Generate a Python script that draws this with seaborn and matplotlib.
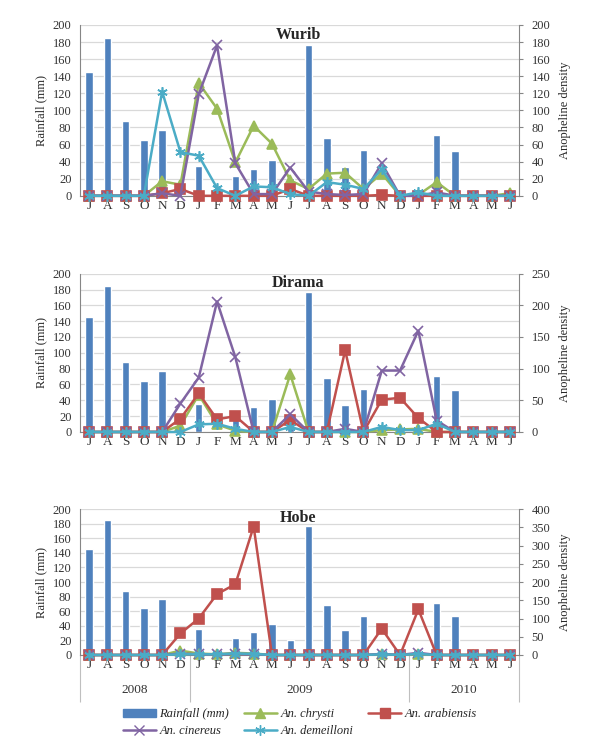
import numpy as np
import matplotlib
matplotlib.use("Agg")
import matplotlib.pyplot as plt
import seaborn as sns
from matplotlib.patches import Patch
from matplotlib.lines import Line2D

# month labels Jul 2008 - Jun 2010
months = ['J', 'A', 'S', 'O', 'N', 'D', 'J', 'F', 'M', 'A', 'M', 'J',
          'J', 'A', 'S', 'O', 'N', 'D', 'J', 'F', 'M', 'A', 'M', 'J']
years = ['2008', '2009', '2010']
year_months = [6, 12, 6]

rainfall = [145, 185, 88, 65, 77, 0, 35, 0, 23, 31, 42, 21,
            177, 68, 34, 54, 0, 0, 0, 71, 53, 0, 0, 0]

# Wurib
wurib_chrysti = [0, 0, 0, 0, 17, 13, 132, 102, 39, 82, 61, 18,
                 8, 26, 27, 8, 26, 0, 1, 16, 0, 0, 0, 3]
wurib_arabiensis = [0, 0, 0, 0, 3, 8, 0, 0, 0, 0, 0, 8,
                    0, 0, 0, 0, 1, 0, 0, 0, 0, 0, 0, 0]
wurib_cinereus = [0, 0, 0, 0, 3, 0, 119, 176, 38, 2, 2, 33,
                  5, 2, 1, 2, 38, 0, 0, 4, 0, 0, 0, 0]
wurib_demeilloni = [0, 0, 0, 0, 122, 51, 47, 9, 0, 11, 10, 2,
                    0, 16, 13, 8, 31, 0, 4, 0, 0, 0, 0, 0]

# Dirama
dirama_chrysti = [0, 0, 0, 0, 0, 10, 59, 12, 2, 0, 0, 91,
                  0, 0, 0, 0, 3, 4, 5, 0, 0, 0, 0, 0]
dirama_arabiensis = [0, 0, 0, 0, 0, 21, 61, 20, 25, 0, 0, 19,
                     0, 0, 129, 0, 51, 54, 22, 0, 0, 0, 0, 0]
dirama_cinereus = [0, 0, 0, 0, 0, 45, 86, 206, 118, 0, 0, 28,
                   0, 0, 5, 0, 97, 97, 160, 18, 0, 0, 0, 0]
dirama_demeilloni = [0, 0, 0, 0, 0, 0, 12, 13, 5, 0, 0, 8,
                     0, 0, 0, 0, 8, 3, 3, 13, 0, 0, 0, 0]

# Hobe
hobe_chrysti = [0, 0, 0, 0, 0, 12, 4, 2, 6, 4, 0, 0,
                0, 0, 0, 0, 2, 0, 3, 0, 0, 0, 0, 0]
hobe_arabiensis = [0, 0, 0, 0, 0, 59, 100, 167, 194, 352, 0, 0,
                   0, 0, 0, 0, 72, 0, 125, 0, 0, 0, 0, 0]
hobe_cinereus = [0, 0, 0, 0, 0, 4, 2, 2, 3, 2, 0, 0,
                 0, 0, 0, 0, 3, 0, 6, 0, 0, 0, 0, 0]
hobe_demeilloni = [0, 0, 0, 0, 0, 2, 2, 2, 4, 3, 0, 0,
                   0, 0, 0, 0, 2, 0, 3, 0, 0, 0, 0, 0]

species_names = ['An. chrysti', 'An. arabiensis', 'An. cinereus', 'An. demeilloni']
species_colors = ['#9BBB59', '#C0504D', '#8064A2', '#4BACC6']
species_markers = ['^', 's', 'x', (6, 2, 0)]
species_msize = [6.5, 6.5, 6.5, 7.5]
bar_color = '#4F81BD'

sites = [
    ('Wurib', [wurib_chrysti, wurib_arabiensis, wurib_cinereus, wurib_demeilloni], 200, 20),
    ('Dirama', [dirama_chrysti, dirama_arabiensis, dirama_cinereus, dirama_demeilloni], 250, 50),
    ('Hobe', [hobe_chrysti, hobe_arabiensis, hobe_cinereus, hobe_demeilloni], 400, 50),
]

sns.set_style('white')
plt.rcParams['font.family'] = ['Liberation Serif', 'DejaVu Serif']

fig = plt.figure(figsize=(6, 7.56), dpi=100)
boxes = [(0.133, 0.741, 0.732, 0.226),
         (0.133, 0.4286, 0.732, 0.2094),
         (0.133, 0.1336, 0.732, 0.1931)]

x = np.arange(len(months))
grey = '#868686'
fs = 9

for i, (name, series, rmax, rstep) in enumerate(sites):
    ax = fig.add_axes(boxes[i])
    sns.barplot(x=x, y=rainfall, ax=ax, color=bar_color, width=0.4, saturation=1)
    ax.set_ylim(0, 200)
    ax.set_yticks(np.arange(0, 201, 20))
    ax.set_xlim(-0.5, len(months) - 0.5)
    ax.yaxis.grid(True, color='#D9D9D9', lw=0.9)
    ax.set_axisbelow(True)
    ax.set_ylabel('Rainfall (mm)', fontsize=fs, labelpad=4)
    ax.set_xlabel('')
    ax.set_xticks(x)
    ax.set_xticklabels(months, fontsize=9.5)
    ax.tick_params(axis='y', labelsize=fs, length=0, pad=6, labelcolor='#333333')
    ax.tick_params(axis='x', length=0, pad=3, labelcolor='#333333')
    for s in ['left', 'bottom']:
        ax.spines[s].set_color(grey)
        ax.spines[s].set_linewidth(0.8)
    ax.spines['top'].set_visible(False)
    ax.spines['right'].set_visible(False)

    ax2 = ax.twinx()
    for vals, c, m, ms in zip(series, species_colors, species_markers, species_msize):
        sns.lineplot(x=x, y=vals, ax=ax2, color=c, marker=m, markersize=ms,
                     markeredgecolor=c, markeredgewidth=1.2, linewidth=1.8,
                     sort=False, clip_on=False)
    ax2.set_ylim(0, rmax)
    ax2.set_yticks(np.arange(0, rmax + 1, rstep))
    ax2.set_xlim(-0.5, len(months) - 0.5)
    ax2.set_ylabel('Anopheline density', fontsize=fs, labelpad=6)
    ax2.tick_params(axis='y', labelsize=fs, length=3, color=grey, pad=6,
                    labelcolor='#333333')
    ax2.spines['right'].set_color(grey)
    ax2.spines['right'].set_linewidth(0.8)
    for s in ['left', 'top', 'bottom']:
        ax2.spines[s].set_visible(False)

    ax.text(0.497, 0.99, name, transform=ax.transAxes, ha='center', va='top',
            fontsize=11.5, fontweight='bold')

    if i == 2:
        # month separators
        ax.set_xticks(np.arange(-0.5, len(months), 1), minor=True)
        ax.tick_params(axis='x', which='minor', length=16, color='#BFBFBF', width=0.8)
        # year separators and labels
        bounds = np.concatenate([[0], np.cumsum(year_months)]) - 0.5
        sec = ax.secondary_xaxis('bottom')
        sec.set_xticks(bounds)
        sec.set_xticklabels([''] * len(bounds))
        sec.tick_params(length=34, color='#BFBFBF', width=0.8)
        sec.spines['bottom'].set_visible(False)
        centers = (bounds[:-1] + bounds[1:]) / 2
        sec2 = ax.secondary_xaxis('bottom')
        sec2.set_xticks(centers)
        sec2.set_xticklabels(years, fontsize=9.5, color='#333333')
        sec2.tick_params(length=0, pad=21)
        sec2.spines['bottom'].set_visible(False)

handles = [Patch(color=bar_color)]
for c, m, ms in zip(species_colors, species_markers, species_msize):
    handles.append(Line2D([], [], color=c, marker=m, markersize=ms,
                          markeredgecolor=c, lw=1.8))
labels = ['Rainfall (mm)'] + species_names
# ncol=3 fills column-wise, reorder to read row-wise
order = [0, 3, 1, 4, 2]
fig.legend([handles[k] for k in order], [labels[k] for k in order],
           loc='upper center', bbox_to_anchor=(0.5, 0.078), ncol=3,
           frameon=False, prop={'style': 'italic', 'size': 9},
           handlelength=2.6, columnspacing=1.2, handletextpad=0.3,
           labelspacing=0.4)

fig.savefig('out.png', dpi=100)
